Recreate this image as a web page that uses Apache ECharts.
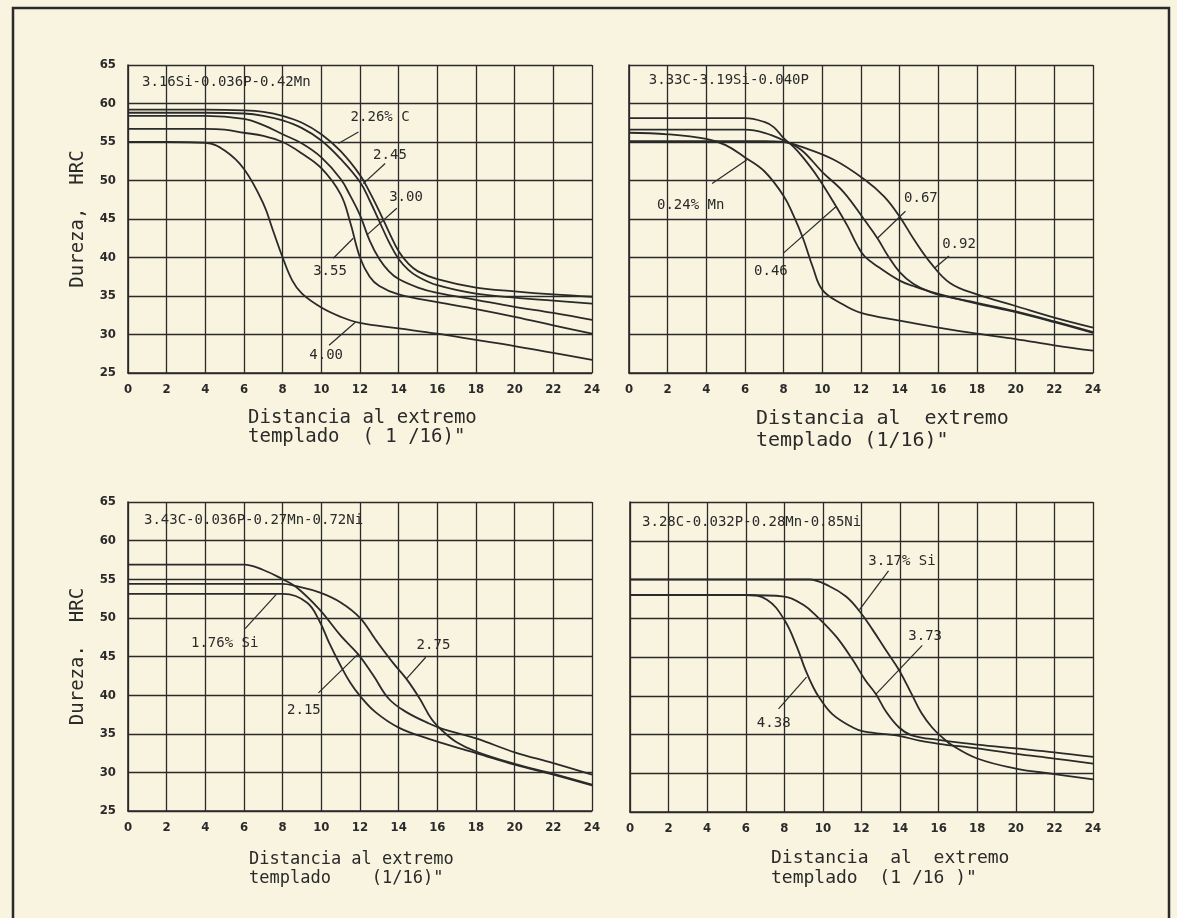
<!DOCTYPE html>
<html>
<head>
<meta charset="utf-8">
<script src="https://cdn.jsdelivr.net/npm/echarts@6/dist/echarts.min.js"></script>
<style>
  html, body { margin: 0; padding: 0; background: #f8f4df; }
  #chart { width: 1177px; height: 918px; }
</style>
</head>
<body>
<div id="chart"></div>
<script>
// ---------- DATA ----------
// Panel 1: 3.16Si-0.036P-0.42Mn, curves by %C  [distance (1/16 in), HRC]
const p1_c226 = [[0,59.2],[4,59.2],[6,59.1],[7,58.9],[8,58.4],[9,57.5],[10,56.0],[11,53.8],[12,50.7],[12.5,48.5],[13,46.0],[13.5,43.3],[14,40.8],[14.5,39.2],[15,38.2],[16,37.2],[18,36.1],[20,35.6],[22,35.2],[24,34.9]];
const p1_c245 = [[0,58.8],[4,58.8],[6,58.7],[7,58.4],[8,57.8],[9,56.8],[10,55.2],[11,52.8],[12,49.8],[12.5,47.4],[13,44.7],[13.5,42.0],[14,39.8],[14.5,38.4],[15,37.5],[16,36.4],[18,35.3],[20,34.8],[22,34.4],[24,34.0]];
const p1_c300 = [[0,58.4],[4,58.4],[6,58.0],[7,57.2],[8,56.0],[9,54.8],[10,53.0],[11,50.2],[11.5,48.0],[12,45.5],[12.5,42.2],[13,39.8],[13.5,38.2],[14,37.2],[15,36.1],[16,35.4],[18,34.5],[20,33.6],[22,32.8],[24,31.9]];
const p1_c355 = [[0,56.7],[4,56.7],[5,56.6],[6,56.2],[7,55.8],[8,55.0],[9,53.5],[10,51.6],[11,48.2],[11.5,44.5],[12,40.0],[12.5,37.5],[13,36.3],[14,35.2],[16,34.2],[18,33.3],[20,32.3],[22,31.2],[24,30.1]];
const p1_c400 = [[0,55.0],[2,55.0],[4,54.9],[5,53.9],[6,51.5],[7,47.0],[7.5,43.5],[8,40.0],[8.5,37.0],[9,35.3],[10,33.5],[11,32.3],[12,31.5],[14,30.8],[16,30.1],[18,29.3],[20,28.5],[22,27.6],[24,26.7]];

// Panel 2: 3.33C-3.19Si-0.040P, curves by %Mn
const p2_mn024 = [[0,56.2],[2,56.0],[4,55.4],[5,54.6],[6,53.0],[7,51.2],[8,48.0],[8.5,45.5],[9,42.5],[9.5,38.8],[10,35.8],[11,34.0],[12,32.8],[14,31.8],[16,30.9],[18,30.1],[20,29.4],[22,28.6],[24,27.9]];
const p2_mn046 = [[0,58.1],[6,58.1],[7,57.6],[7.5,56.9],[8,55.5],[8.5,54.4],[9,53.0],[9.75,50.5],[10.6,47.1],[11.3,44.1],[11.8,41.6],[12.2,40.1],[13,38.6],[14,37.0],[14.7,36.3],[15.8,35.4],[18,34.0],[20,32.9],[22,31.6],[24,30.2]];
const p2_mn067 = [[0,56.6],[6,56.6],[7,56.2],[8,55.2],[8.9,54.0],[10,51.1],[11.1,48.5],[12.2,44.8],[12.85,42.5],[13.4,40.2],[14,38.1],[14.7,36.6],[15.6,35.5],[16.5,34.9],[18,34.1],[20,33.0],[22,31.7],[24,30.3]];
const p2_mn092 = [[0,55.1],[7,55.1],[8,55.0],[8.9,54.4],[10.6,52.7],[12.2,50.1],[13.2,47.9],[14,45.3],[14.75,42.3],[15.6,39.3],[16.6,36.7],[18,35.2],[20,33.7],[22,32.2],[24,30.9]];

// Panel 3: 3.43C-0.036P-0.27Mn-0.72Ni, curves by %Si
const p3_si176 = [[0,53.1],[8,53.1],[9.25,52.0],[9.9,49.6],[10.4,46.8],[11,43.8],[11.5,41.6],[12,39.9],[12.8,37.8],[14,35.8],[15.6,34.3],[17.3,33.0],[18,32.5],[20,31.0],[22,29.7],[24,28.3]];
const p3_si215 = [[0,56.9],[6,56.9],[7,56.2],[8,55.0],[8.7,54.0],[9.9,51.1],[11,47.7],[11.9,45.3],[12.7,42.5],[13.5,39.5],[14.4,37.8],[15.6,36.3],[16.3,35.6],[18,34.4],[20,32.6],[22,31.2],[24,29.7]];
const p3_si275 = [[0,54.4],[8,54.4],[8.7,54.1],[9.9,53.3],[11,52.0],[12,50.0],[12.8,47.2],[13.7,44.2],[14.4,42.1],[15.1,39.5],[15.7,36.9],[16.3,35.3],[17,33.9],[18,32.7],[20,31.1],[22,29.8],[24,28.4]];

// Panel 4: 3.28C-0.032P-0.28Mn-0.85Ni, curves by %Si
const p4_si317 = [[0,55.0],[9.3,55.0],[10.36,54.1],[11.2,52.8],[11.9,50.9],[12.58,48.5],[13.26,45.9],[13.95,43.3],[14.6,40.2],[15.1,37.8],[15.66,35.9],[16.2,34.6],[16.7,33.6],[18,31.9],[20,30.6],[22,29.9],[24,29.2]];
const p4_si373 = [[0,53.0],[6,53.0],[8,52.8],[9,51.7],[9.7,50.2],[10.7,47.6],[11.55,44.6],[12.2,42.0],[12.75,40.2],[13.26,38.0],[13.95,35.9],[14.6,34.9],[16,34.3],[18,33.7],[20,33.2],[22,32.7],[24,32.1]];
const p4_si438 = [[0,53.0],[6,53.0],[7.1,52.4],[8,49.8],[8.65,46.3],[9.1,43.3],[9.5,41.1],[9.85,39.6],[10.5,37.6],[11.55,35.9],[12.1,35.4],[14,34.8],[15,34.2],[16,33.8],[18,33.2],[20,32.5],[22,31.9],[24,31.25]];

// Axis ranges / ticks
const X_RANGE = [0, 24, 2];
const Y_RANGE = [25, 65, 5];

// Composition titles (text, x, y in data units)
const boxLabels = [
  ['3.16Si-0.036P-0.42Mn', 0.7, 62.8],
  ['3.33C-3.19Si-0.040P', 1.0, 63.0],
  ['3.43C-0.036P-0.27Mn-0.72Ni', 0.8, 62.6],
  ['3.28C-0.032P-0.28Mn-0.85Ni', 0.6, 62.4]
];
// Curve labels: [text, labelX, labelY, leaderX1, leaderY1, leaderX2, leaderY2]
const p1_labels = [
  ['2.26% C', 13.04, 58.2, 11.92, 56.3, 10.88, 54.8],
  ['2.45', 13.55, 53.3, 13.3, 52.2, 12.17, 49.6],
  ['3.00', 14.38, 47.8, 13.9, 46.4, 12.35, 42.9],
  ['3.55', 10.45, 38.2, 10.62, 39.9, 11.65, 42.5],
  ['4.00', 10.25, 27.3, 10.4, 28.6, 11.76, 31.6]
];
const p2_labels = [
  ['0.24% Mn', 3.19, 46.8, 4.3, 49.6, 6.1, 52.7],
  ['0.46', 7.34, 38.2, 8.0, 40.6, 10.7, 46.6],
  ['0.67', 15.1, 47.7, 14.3, 46.0, 12.85, 42.5],
  ['0.92', 17.07, 41.7, 16.55, 40.2, 15.8, 38.6]
];
const p3_labels = [
  ['1.76% Si', 5.0, 46.7, 6.06, 48.6, 7.66, 53.0],
  ['2.15', 9.1, 38.0, 9.85, 40.3, 11.9, 45.3],
  ['2.75', 15.8, 46.5, 15.4, 44.9, 14.4, 42.1]
];
const p4_labels = [
  ['3.17% Si', 14.1, 57.4, 13.4, 56.1, 11.9, 51.1],
  ['3.73', 15.3, 47.7, 15.15, 46.5, 12.75, 40.2],
  ['4.38', 7.45, 36.4, 7.7, 38.3, 9.15, 42.4]
];

const yNames = ['Dureza,  HRC', '', 'Dureza.  HRC', ''];
const xNames = [
  'Distancia al extremo\ntemplado  ( 1 /16)"',
  'Distancia al  extremo\ntemplado (1/16)"',
  'Distancia al extremo\ntemplado    (1/16)"',
  'Distancia  al  extremo\ntemplado  (1 /16 )"'
];

// ---------- STYLE ----------
const BG = '#f8f4df';
const INK = '#2a2a2a';
const MONO = '"DejaVu Sans Mono", monospace';
const TICKFONT = '"DejaVu Sans Condensed", "DejaVu Sans", sans-serif';

const grids = [
  { left: 128, top: 65, width: 464, height: 308 },
  { left: 629, top: 65, width: 464, height: 308 },
  { left: 128, top: 502, width: 464, height: 309 },
  { left: 630, top: 502, width: 463, height: 310 }
];

const panels = [
  { curves: [p1_c226, p1_c245, p1_c300, p1_c355, p1_c400], names: ['2.26% C','2.45','3.00','3.55','4.00'], labels: p1_labels },
  { curves: [p2_mn024, p2_mn046, p2_mn067, p2_mn092], names: ['0.24% Mn','0.46','0.67','0.92'], labels: p2_labels },
  { curves: [p3_si176, p3_si215, p3_si275], names: ['1.76% Si','2.15','2.75'], labels: p3_labels },
  { curves: [p4_si317, p4_si373, p4_si438], names: ['3.17% Si','3.73','4.38'], labels: p4_labels }
];

const xAxes = [], yAxes = [], series = [];
panels.forEach((p, i) => {
  xAxes.push({
    type: 'value', gridIndex: i, min: X_RANGE[0], max: X_RANGE[1], interval: X_RANGE[2],
    axisLine: { show: true, onZero: false, lineStyle: { color: INK, width: 1.6 } },
    axisTick: { show: false },
    splitLine: { show: true, lineStyle: { color: INK, width: 1.3 } },
    axisLabel: { margin: 10, color: INK, fontFamily: TICKFONT, fontWeight: 'bold', fontSize: 13 }
  });
  yAxes.push({
    type: 'value', gridIndex: i, min: Y_RANGE[0], max: Y_RANGE[1], interval: Y_RANGE[2],
    name: yNames[i], nameLocation: 'middle', nameGap: 40, nameRotate: 90,
    nameTextStyle: { color: INK, fontFamily: MONO, fontSize: 19 },
    axisLine: { show: true, onZero: false, lineStyle: { color: INK, width: 1.6 } },
    axisTick: { show: false },
    splitLine: { show: true, lineStyle: { color: INK, width: 1.3 } },
    axisLabel: { show: (i === 0 || i === 2), margin: 12, color: INK, fontFamily: TICKFONT, fontWeight: 'bold', fontSize: 13 }
  });
  p.curves.forEach((c, k) => {
    const s = {
      type: 'line', name: p.names[k], xAxisIndex: i, yAxisIndex: i, data: c,
      showSymbol: false, symbol: 'none', smooth: 0.4,
      lineStyle: { color: INK, width: 1.8 }, z: 3, animation: false, silent: true
    };
    if (k === 0) {
      const b = boxLabels[i];
      s.markPoint = {
        silent: true, symbol: 'circle', symbolSize: 1, animation: false,
        itemStyle: { color: 'rgba(0,0,0,0)' },
        data: [
          { name: b[0], coord: [b[1], b[2]],
            label: { show: true, position: 'right', distance: 0, formatter: b[0], color: INK, fontFamily: MONO, fontSize: 14 } }
        ].concat(p.labels.map(l => ({
          name: l[0], coord: [l[1], l[2]],
          label: { show: true, position: 'inside', formatter: l[0], color: INK, fontFamily: MONO, fontSize: 14 }
        })))
      };
      s.markLine = {
        silent: true, symbol: ['none', 'none'], animation: false,
        lineStyle: { color: INK, width: 1.2, type: 'solid' },
        label: { show: false },
        data: p.labels.map(l => [{ coord: [l[3], l[4]] }, { coord: [l[5], l[6]] }])
      };
    }
    series.push(s);
  });
});

const nameBoxes = [
  { left: 248, top: 409, size: 19, lh: 19 },
  { left: 756, top: 408, size: 20, lh: 22 },
  { left: 249, top: 850, size: 17, lh: 19 },
  { left: 771, top: 848, size: 18, lh: 20 }
];

const graphics = [
  { type: 'rect', shape: { x: 13, y: 8, width: 1156, height: 960 }, style: { fill: 'none', stroke: INK, lineWidth: 2.5 }, silent: true, z: 10 }
].concat(nameBoxes.map((n, i) => ({
  type: 'text', left: n.left, top: n.top, silent: true, z: 10,
  style: { text: xNames[i], fill: INK, fontFamily: MONO, fontSize: n.size, lineHeight: n.lh, textAlign: 'left' }
})));

const chart = echarts.init(document.getElementById('chart'), null, { renderer: 'canvas' });
chart.setOption({
  backgroundColor: BG,
  animation: false,
  grid: grids,
  xAxis: xAxes,
  yAxis: yAxes,
  series: series,
  graphic: graphics
});
</script>
</body>
</html>
